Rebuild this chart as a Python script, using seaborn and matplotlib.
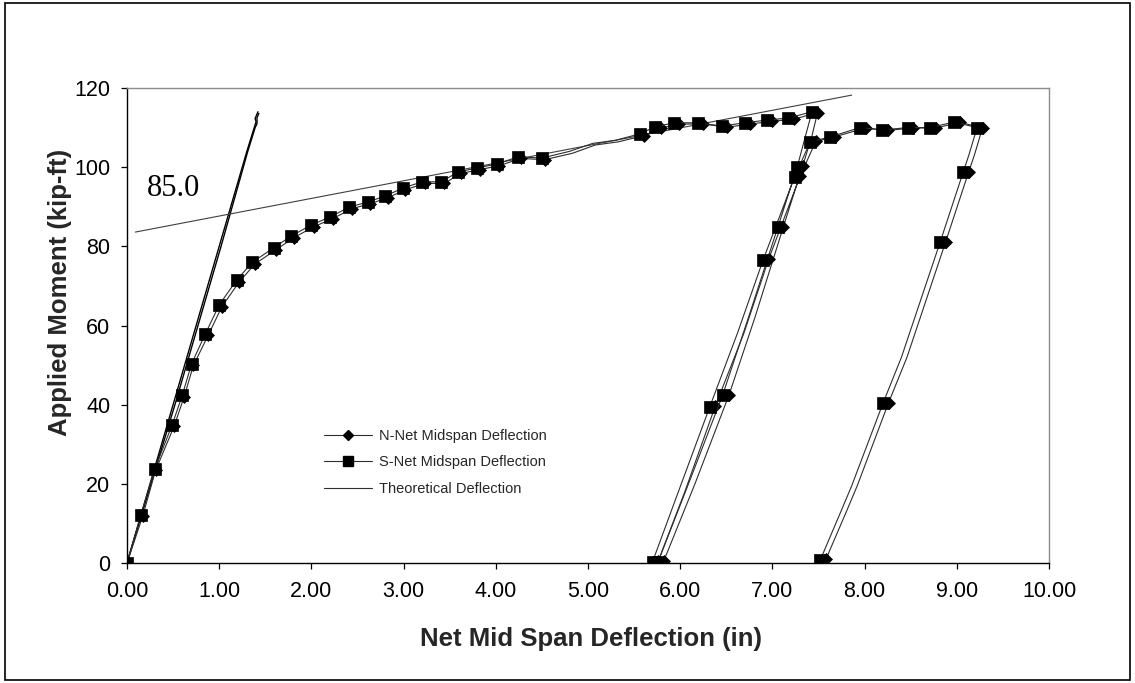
import matplotlib
matplotlib.use("Agg")
import matplotlib.pyplot as plt
import seaborn as sns
from matplotlib.lines import Line2D
from matplotlib.patches import Rectangle
from matplotlib.ticker import FormatStrFormatter

# ---------------- data ----------------
# S-Net midspan deflection (x in, y kip-ft, marker flag)
s_x = [0.00, 0.15, 0.30, 0.49, 0.60, 0.70, 0.85, 1.00, 1.19, 1.36, 1.59, 1.78, 2.00, 2.20,
       2.41, 2.61, 2.80, 2.99, 3.20, 3.41, 3.59, 3.80, 4.01, 4.24, 4.50, 4.80, 5.05, 5.30,
       5.56, 5.73, 5.93, 6.19, 6.45, 6.70, 6.94, 7.17, 7.43,
       7.36, 7.27, 7.06, 6.74, 6.46, 6.09, 5.76,
       5.70, 5.98, 6.32, 6.62, 6.90, 7.24, 7.41, 7.62, 7.95, 8.19, 8.47, 8.71, 8.97, 9.22,
       9.13, 9.07, 8.82, 8.40, 8.20, 7.86, 7.75, 7.52]
s_y = [0.0, 12.1, 23.7, 34.9, 42.4, 50.3, 57.9, 65.2, 71.5, 76.0, 79.6, 82.6, 85.4, 87.4,
       89.9, 91.2, 92.7, 94.7, 96.3, 96.3, 98.8, 99.8, 100.8, 102.6, 102.3, 104.0, 106.0, 106.8,
       108.4, 110.2, 111.2, 111.2, 110.4, 111.2, 111.9, 112.4, 114.0,
       108.0, 100.1, 84.9, 62.0, 42.4, 20.0, 0.3,
       0.3, 18.0, 39.4, 58.0, 76.6, 97.5, 106.4, 107.6, 110.0, 109.4, 110.0, 110.0, 111.4, 110.0,
       103.0, 98.8, 81.1, 52.0, 40.4, 19.5, 13.4, 0.8]
s_mark = [1, 1, 1, 1, 1, 1, 1, 1, 1, 1, 1, 1, 1, 1,
          1, 1, 1, 1, 1, 1, 1, 1, 1, 1, 1, 0, 0, 0,
          1, 1, 1, 1, 1, 1, 1, 1, 1,
          0, 1, 1, 0, 1, 0, 1,
          1, 0, 1, 0, 1, 1, 1, 1, 1, 1, 1, 1, 1, 1,
          0, 1, 1, 0, 1, 0, 0, 1]

# N-Net midspan deflection
n_x = [0.00, 0.17, 0.31, 0.51, 0.62, 0.72, 0.88, 1.03, 1.22, 1.39, 1.62, 1.81, 2.03, 2.23,
       2.44, 2.64, 2.83, 3.02, 3.23, 3.44, 3.62, 3.83, 4.04, 4.27, 4.53, 4.83, 5.08, 5.33,
       5.61, 5.79, 5.99, 6.25, 6.51, 6.76, 7.00, 7.23, 7.49,
       7.43, 7.33, 7.12, 6.81, 6.53, 6.16, 5.82,
       5.76, 6.05, 6.38, 6.69, 6.96, 7.30, 7.47, 7.68, 8.01, 8.25, 8.53, 8.77, 9.03, 9.28,
       9.19, 9.13, 8.88, 8.46, 8.26, 7.92, 7.81, 7.58]
n_y = [0.0, 11.8, 23.4, 34.5, 42.0, 49.9, 57.5, 64.8, 71.1, 75.6, 79.2, 82.2, 85.0, 87.0,
       89.5, 90.8, 92.3, 94.3, 95.9, 95.9, 98.4, 99.4, 100.4, 102.2, 101.9, 103.5, 105.6, 106.4,
       108.0, 109.9, 110.9, 110.9, 110.1, 110.9, 111.6, 112.1, 113.8,
       108.0, 100.4, 85.0, 62.0, 42.5, 20.0, 0.4,
       0.4, 18.0, 39.6, 58.0, 76.8, 97.7, 106.5, 107.7, 109.9, 109.3, 109.9, 109.9, 111.3, 110.0,
       103.0, 98.9, 81.2, 52.0, 40.5, 19.5, 13.4, 0.9]
n_mark = s_mark

# Theoretical deflection (two nearly coincident traces) and tangent line
theo_x1 = [0.00, 0.50, 1.00, 1.30, 1.38, 1.40, 1.39, 1.42]
theo_y1 = [0.0, 40.0, 80.0, 104.0, 110.0, 111.5, 112.3, 114.0]
theo_x2 = [0.00, 0.52, 1.02, 1.31, 1.39, 1.41, 1.41, 1.43]
theo_y2 = [0.0, 40.0, 80.0, 104.0, 110.0, 111.0, 112.5, 113.6]
tan_x = [0.09, 7.86]
tan_y = [83.6, 118.2]

x_ticks = [0, 1, 2, 3, 4, 5, 6, 7, 8, 9, 10]
y_ticks = [0, 20, 40, 60, 80, 100, 120]
annot_text = "85.0"
legend_labels = ["N-Net Midspan Deflection", "S-Net Midspan Deflection", "Theoretical Deflection"]

# ---------------- style ----------------
sns.set_style("white")
plt.rcParams["font.family"] = ["Liberation Sans", "DejaVu Sans"]

W, H = 1135, 683
fig = plt.figure(figsize=(W / 100, H / 100), dpi=100)
fig.patch.set_facecolor("white")
ax = fig.add_axes([127 / W, 1 - 563 / H, (1049 - 127) / W, (563 - 88) / H])

line_col = "#2e2e2e"
common = dict(sort=False, estimator=None, legend=False, ax=ax)

# theoretical lines
sns.lineplot(x=theo_x1, y=theo_y1, color="black", linewidth=1.0, **common)
sns.lineplot(x=theo_x2, y=theo_y2, color="black", linewidth=1.0, **common)
sns.lineplot(x=tan_x, y=tan_y, color="#404040", linewidth=0.8, **common)

n_idx = [i for i, m in enumerate(n_mark) if m]
s_idx = [i for i, m in enumerate(s_mark) if m]

sns.lineplot(x=n_x, y=n_y, color=line_col, linewidth=0.8, marker="D", markersize=6.2,
             markerfacecolor="black", markeredgecolor="black", markeredgewidth=0.5,
             markevery=n_idx, **common)
sns.lineplot(x=s_x, y=s_y, color=line_col, linewidth=0.8, marker="s", markersize=8.4,
             markerfacecolor="black", markeredgecolor="black", markeredgewidth=0.5,
             markevery=s_idx, **common)

ax.set_xlim(0, 10)
ax.set_ylim(0, 120)
ax.set_xticks(x_ticks)
ax.set_yticks(y_ticks)
ax.xaxis.set_major_formatter(FormatStrFormatter("%.2f"))
ax.set_xlabel("")
ax.set_ylabel("")
ax.tick_params(axis="both", which="major", bottom=True, left=True, direction="out",
               length=4, width=0.9, colors="black", labelsize=15.5)
ax.tick_params(axis="x", pad=9)
ax.tick_params(axis="y", pad=8)
for side in ["left", "bottom"]:
    ax.spines[side].set_color("black")
    ax.spines[side].set_linewidth(1.0)
for side in ["top", "right"]:
    ax.spines[side].set_color("#8c8c8c")
    ax.spines[side].set_linewidth(1.0)
ax.grid(False)

ax.text(0.50, 94.5, annot_text, fontsize=22, family=["Liberation Serif", "DejaVu Serif"],
        ha="center", va="center", color="black")

fig.text(591 / W, 1 - 639 / H, "Net Mid Span Deflection (in)", fontsize=18.5,
         fontweight="bold", ha="center", va="center")
fig.text(60 / W, 1 - 292 / H, "Applied Moment (kip-ft)", fontsize=18.5,
         fontweight="bold", ha="center", va="center", rotation=90)

handles = [
    Line2D([0], [0], color=line_col, lw=0.8, marker="D", markersize=5, markerfacecolor="black",
           markeredgecolor="black"),
    Line2D([0], [0], color=line_col, lw=0.8, marker="s", markersize=6.5, markerfacecolor="black",
           markeredgecolor="black"),
    Line2D([0], [0], color=line_col, lw=0.8),
]
fig.legend(handles, legend_labels, loc="upper left", bbox_to_anchor=(324 / W, 1 - 429 / H),
           bbox_transform=fig.transFigure, frameon=False, fontsize=10.5, borderpad=0,
           borderaxespad=0, handlelength=3.3, handletextpad=0.5, labelspacing=0.85)

fig.patches.append(Rectangle((5 / W, 3 / H), 1125 / W, 677 / H, transform=fig.transFigure,
                             fill=False, edgecolor="black", linewidth=1.2))

fig.savefig("out.png", dpi=100, facecolor="white")
